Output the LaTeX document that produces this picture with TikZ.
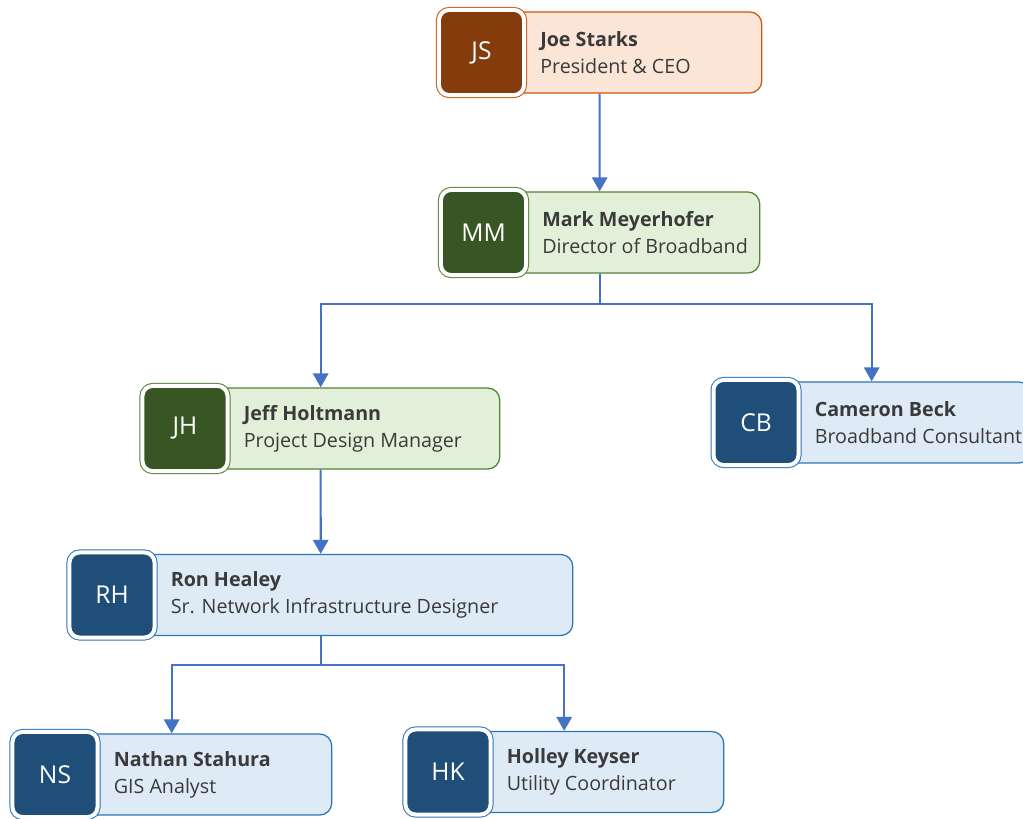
\documentclass[tikz,border=0pt]{standalone}
\usepackage{fontspec}
\setmainfont{Open Sans}
\usetikzlibrary{positioning}
\usetikzlibrary{arrows.meta}
\definecolor{brownface}{HTML}{843C0C}
\definecolor{brownfill}{HTML}{FBE5D6}
\definecolor{brownedge}{HTML}{C55A11}
\definecolor{greenface}{HTML}{375623}
\definecolor{greenfill}{HTML}{E2F0D9}
\definecolor{greenedge}{HTML}{548235}
\definecolor{blueface}{HTML}{1F4E79}
\definecolor{bluefill}{HTML}{DEEBF7}
\definecolor{blueedge}{HTML}{2E75B6}
\definecolor{linkblue}{HTML}{4472C4}
\definecolor{inkgray}{HTML}{3A3A3A}
\tikzset{
  card/.style={draw=#1edge,fill=#1fill,line width=0.9pt,rounded corners=0.3cm,
    minimum height=2.025cm,anchor=west,inner sep=0pt},
  avatar/.style={fill=#1face,draw=white,line width=0.1cm,rounded corners=0.25cm,
    preaction={draw=#1edge,line width=0.15cm},minimum size=2.125cm,inner sep=0pt,
    text=white,font=\fontsize{17.5}{17.5}\selectfont},
  info/.style={anchor=west,align=left,inner sep=0pt,text=inkgray,
    font=\fontsize{14}{19.2}\selectfont},
  link/.style={draw=linkblue,line width=1.5pt,-{Triangle[width=11pt,length=10pt]}}
}
\begin{document}
\begin{tikzpicture}[x=0.025cm,y=-0.025cm]
\useasboundingbox[fill=white] (0,0) rectangle (1023,819);
\clip (0,0) rectangle (1023,819);
% cards
\node[card=brown,minimum width=8.1cm] (jscard) at (437,52.5) {};
\node[card=green,minimum width=8cm] (mmcard) at (439,232.5) {};
\node[card=green,minimum width=8.95cm] (jhcard) at (141,428.5) {};
\node[card=blue,minimum width=7.95cm] (cbcard) at (712,422.5) {};
\node[card=blue,minimum width=12.6cm] (rhcard) at (68,595) {};
\node[card=blue,minimum width=8cm] (nscard) at (11,774.5) {};
\node[card=blue,minimum width=7.975cm] (hkcard) at (404,772) {};
% avatars
\node[avatar=brown] (js) at (481.5,52.5) {JS};
\node[avatar=green] (mm) at (483.5,232.5) {MM};
\node[avatar=green] (jh) at (185,428.5) {JH};
\node[avatar=blue] (cb) at (756,422.5) {CB};
\node[avatar=blue] (rh) at (112,595) {RH};
\node[avatar=blue] (ns) at (55,774.5) {NS};
\node[avatar=blue] (hk) at (448,772) {HK};
% names and titles
\node[info] (jstext) at (540,52.5) {\textbf{Joe Starks}\\President \& CEO};
\node[info] (mmtext) at (542,232.5) {\textbf{Mark Meyerhofer}\\Director of Broadband};
\node[info] (jhtext) at (243.5,428.5) {\textbf{Jeff Holtmann}\\Project Design Manager};
\node[info] (cbtext) at (814.5,422.5) {\textbf{Cameron Beck}\\Broadband Consultant};
\node[info] (rhtext) at (170.5,595) {\textbf{Ron Healey}\\Sr. Network Infrastructure Designer};
\node[info] (nstext) at (113.5,774.5) {\textbf{Nathan Stahura}\\GIS Analyst};
\node[info] (hktext) at (506.5,772) {\textbf{Holley Keyser}\\Utility Coordinator};
% connectors
\draw[link] (jscard.south) -- (mmcard.north);
\draw[link] (mmcard.south) -- ++(0,30) -| (jhcard.north);
\draw[link] (mmcard.south) -- ++(0,30) -| (cbcard.north);
\draw[link] (jhcard.south) -- (rhcard.north);
\draw[link] (rhcard.south) -- ++(0,29) -| (nscard.north);
\draw[link] (rhcard.south) -- ++(0,29) -| (hkcard.north);
\end{tikzpicture}
\end{document}
